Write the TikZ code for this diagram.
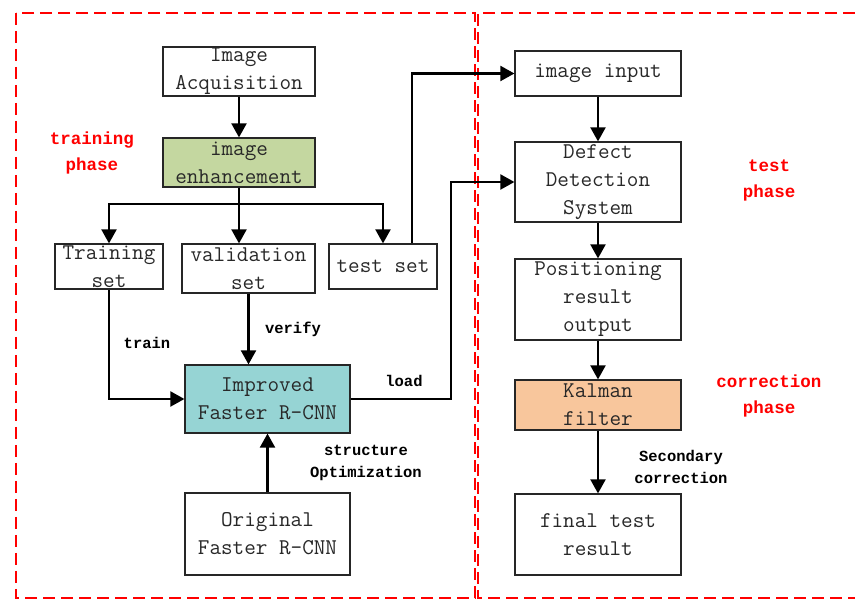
\documentclass[tikz,border=0pt]{standalone}
\usepackage{fontspec}
\setmainfont{Liberation Mono}
\usetikzlibrary{arrows.meta}
\definecolor{enhgreen}{RGB}{196,215,160}
\definecolor{impteal}{RGB}{150,212,212}
\definecolor{kalorange}{RGB}{248,198,156}
\definecolor{txtgray}{RGB}{40,40,40}
\tikzset{
  box/.style={draw=black!85, line width=1.2pt, inner sep=0pt, fill=white},
  txt/.style={font=\ttfamily\fontsize{22.5}{28}\selectfont, text=txtgray, align=center, inner sep=0pt},
  conn/.style={line width=2.1pt, black},
  arr/.style={conn, -{Triangle[length=14pt,width=15pt]}},
  lbl/.style={font=\fontsize{15.5}{22}\selectfont\bfseries, align=center, inner sep=0pt},
  phase/.style={font=\fontsize{17.5}{26}\selectfont\bfseries, text=red, align=center, inner sep=0pt},
  region/.style={red, line width=1.6pt, dash pattern=on 12pt off 6pt}
}
\begin{document}
\begin{tikzpicture}[x=1pt,y=-1pt]
\useasboundingbox (0,0) rectangle (855,601);
% phase regions
\draw[region] (16,13) rectangle (475,598);
\draw[region] (855,13) -- (478,13) -- (478,598) -- (855,598);
% left column boxes
\node[box, minimum width=152pt, minimum height=49pt, label={[txt]center:Image\\Acquisition}] (acq) at (239,71.5) {};
\node[box, fill=enhgreen, minimum width=152pt, minimum height=49pt, label={[txt]center:image\\enhancement}] (enh) at (239,162.5) {};
\node[box, minimum width=108pt, minimum height=45pt, label={[txt]center:Training\\set}] (trn) at (109,266.5) {};
\node[box, minimum width=133pt, minimum height=49pt, label={[txt]center:validation\\set}] (val) at (248.5,268.5) {};
\node[box, minimum width=108pt, minimum height=45pt, label={[txt]center:test set}] (tst) at (383,266.5) {};
\node[box, fill=impteal, minimum width=165pt, minimum height=68pt, label={[txt]center:Improved\\Faster R-CNN}] (imp) at (267.5,399) {};
\node[box, minimum width=165pt, minimum height=82pt, label={[txt]center:Original\\Faster R-CNN}] (orig) at (267.5,534) {};
% right column boxes
\node[box, minimum width=166pt, minimum height=45pt, label={[txt]center:image input}] (inp) at (598,73.5) {};
\node[box, minimum width=166pt, minimum height=80pt, label={[txt]center:Defect\\Detection\\System}] (det) at (598,182) {};
\node[box, minimum width=166pt, minimum height=81pt, label={[txt]center:Positioning\\result\\output}] (pos) at (598,299.5) {};
\node[box, fill=kalorange, minimum width=166pt, minimum height=50pt, label={[txt]center:Kalman\\filter}] (kal) at (598,405) {};
\node[box, minimum width=166pt, minimum height=81pt, label={[txt]center:final test\\result}] (fin) at (598,534.5) {};
% connectors left
\coordinate (bj) at (239,204);
\coordinate (ld) at (451,399);
\draw[arr] (acq) -- (enh);
\draw[arr] (enh.south) -- (enh.south |- val.north);
\draw[arr] (bj) -| (trn.north);
\draw[arr] (bj) -| (tst.north);
\draw[arr] ([xshift=29pt]tst.north) |- (inp.west);
\draw[arr] (trn.south) |- (imp.west);
\draw[arr] (val.south) -- (val.south |- imp.north);
\draw[arr] (orig.north) -- (imp.south);
\draw[arr] (imp.east) -- (ld) |- (det.west);
% connectors right
\draw[arr] (inp) -- (det);
\draw[arr] (det) -- (pos);
\draw[arr] (pos) -- (kal);
\draw[arr] (kal) -- (fin);
% edge labels
\node[lbl] (ltrain) at (147,343) {train};
\node[lbl] (lverify) at (293,329) {verify};
\node[lbl] (lload) at (404,381) {load};
\node[lbl] (lstruct) at (366,463) {structure\\Optimization};
\node[lbl] (lsec) at (681,467) {Secondary\\correction};
% phase labels
\node[phase] (ptrain) at (92,153) {training\\phase};
\node[phase] (ptest) at (769,180.5) {test\\phase};
\node[phase] (pcorr) at (769,396) {correction\\phase};
\end{tikzpicture}
\end{document}
